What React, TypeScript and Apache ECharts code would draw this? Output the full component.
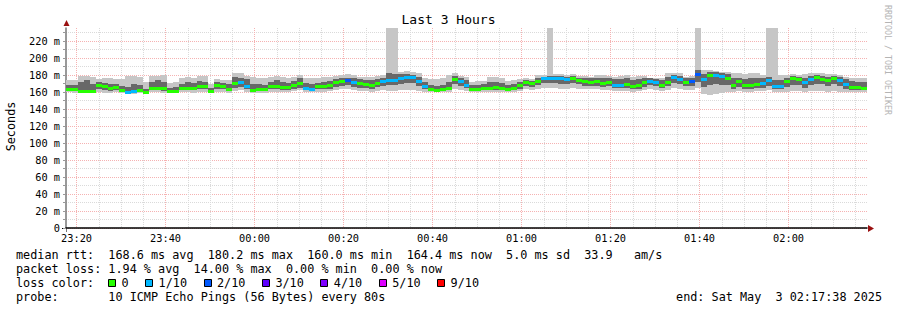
import React, { useEffect, useRef } from "react";
import * as echarts from "echarts";

// time axis in minutes of day (continuing past midnight): 23:17:38 .. 02:17:38
const START_MIN = 23 * 60 + 17 + 38 / 60;
const STEP_MIN = 80 / 60;
const END_MIN = START_MIN + 180;
const Y_MAX = 235.3;

// median rtt per 80 s step (ms)
const median = [
  163, 163, 161, 161, 161, 168, 166, 164, 165, 162,
  160, 161, 162, 160, 164, 164, 164, 161, 161, 164,
  164, 164, 166, 166, 161, 168, 167, 163, 170, 171,
  166, 162, 163, 163, 166, 166, 165, 165, 168, 170,
  164, 163, 166, 166, 168, 171, 172, 173, 171, 170,
  169, 168, 170, 172, 173, 173, 176, 177, 177, 172,
  166, 163, 162, 163, 164, 175, 172, 168, 163, 163,
  164, 164, 165, 164, 163, 164, 168, 171, 170, 172,
  176, 176, 176, 176, 175, 176, 174, 172, 171, 172,
  170, 171, 168, 168, 169, 166, 168, 171, 172, 171,
  168, 171, 177, 175, 171, 172, 180.2, 175, 179, 179.5,
  178, 176, 168, 172, 168, 168, 169, 170, 173, 166,
  166, 172, 176, 175, 171, 175, 177, 175, 173, 176,
  173, 169, 165, 165, 164.4,
];

// lost pings out of 10 per step
const loss = [
  0, 0, 0, 0, 0, 0, 0, 0, 0, 0,
  1, 1, 0, 0, 0, 0, 0, 0, 0, 0,
  0, 0, 0, 0, 0, 0, 0, 0, 0, 1,
  1, 0, 0, 0, 0, 0, 0, 0, 0, 0,
  1, 1, 0, 0, 0, 0, 0, 2, 1, 0,
  0, 0, 0, 1, 1, 1, 1, 1, 1, 1,
  1, 0, 0, 0, 0, 0, 1, 1, 0, 0,
  0, 0, 0, 0, 0, 0, 0, 0, 0, 0,
  1, 1, 1, 1, 1, 0, 0, 0, 0, 0,
  0, 0, 1, 1, 0, 0, 0, 0, 1, 1,
  0, 0, 1, 1, 0, 2, 2, 1, 0, 1,
  1, 0, 0, 0, 0, 0, 0, 1, 1, 1,
  1, 0, 0, 0, 1, 1, 0, 0, 0, 0,
  1, 1, 0, 0, 0,
];

// smoke: lowest ping, lower inner ping, upper inner ping, highest ping (ms)
const pingMin = [
  160, 159, 159, 159, 159, 160, 159, 159, 160, 159,
  158, 158, 159, 159, 160, 160, 159, 159, 159, 160,
  160, 159, 160, 160, 159, 160, 160, 159, 161, 162,
  160, 159, 159, 159, 160, 160, 160, 160, 161, 162,
  160, 160, 160, 160, 161, 162, 163, 163, 162, 161,
  161, 160, 161, 162, 161, 161, 162, 162, 162, 161,
  160, 160, 160, 160, 160, 163, 162, 161, 160, 160,
  160, 160, 160, 160, 160, 160, 161, 163, 162, 163,
  165, 165, 165, 164, 164, 165, 164, 163, 163, 163,
  162, 162, 161, 161, 161, 160, 161, 162, 163, 162,
  161, 162, 165, 164, 162, 162, 165, 158, 157, 158,
  159, 160, 160, 161, 160, 160, 161, 161, 162, 160,
  160, 160, 161, 161, 160, 161, 161, 161, 160, 161,
  160, 160, 160, 160, 160,
];
const pingLow = [
  161, 161, 160, 160, 160, 163, 162, 161, 162, 160,
  159, 159, 160, 160, 162, 162, 161, 160, 160, 162,
  162, 162, 163, 163, 160, 164, 163, 161, 165, 166,
  163, 160, 161, 161, 163, 163, 162, 162, 164, 165,
  162, 161, 163, 163, 164, 166, 167, 168, 166, 165,
  165, 164, 166, 167, 168, 168, 170, 171, 171, 167,
  163, 161, 161, 161, 162, 169, 167, 165, 161, 161,
  162, 162, 162, 162, 161, 162, 164, 167, 166, 168,
  171, 171, 171, 170, 170, 171, 169, 167, 167, 167,
  166, 167, 165, 165, 165, 163, 164, 166, 168, 167,
  165, 167, 171, 169, 167, 167, 172, 166, 168, 169,
  168, 168, 164, 166, 164, 164, 165, 165, 167, 163,
  163, 166, 168, 168, 165, 168, 170, 169, 167, 169,
  167, 164, 162, 162, 162,
];
const pingHigh = [
  168, 168, 172, 174, 170, 172, 171, 170, 169, 167,
  166, 170, 168, 164, 172, 174, 172, 165, 166, 170,
  172, 171, 173, 172, 165, 172, 171, 170, 178, 177,
  175, 170, 170, 168, 172, 174, 172, 171, 173, 176,
  171, 170, 171, 172, 173, 175, 176, 177, 176, 175,
  174, 174, 175, 177, 182, 181, 181, 181, 180, 178,
  172, 168, 167, 168, 172, 179, 177, 174, 168, 168,
  169, 172, 172, 171, 168, 169, 172, 174, 173, 177,
  178, 179, 179, 179, 178, 179, 177, 177, 176, 177,
  176, 176, 175, 175, 176, 174, 175, 176, 176, 175,
  174, 178, 180, 179, 176, 177, 186, 181, 183, 183,
  182, 181, 176, 177, 175, 176, 176, 177, 178, 174,
  174, 177, 179, 178, 177, 179, 180, 179, 178, 179,
  178, 175, 173, 172, 172,
];
const pingMax = [
  174, 174, 179, 179, 178, 175, 176, 176, 175, 175,
  179, 179, 178, 172, 179, 179, 180, 171, 172, 176,
  178, 177, 179, 179, 169, 175, 174, 174, 182, 182,
  179, 178, 177, 176, 178, 179, 178, 176, 178, 180,
  177, 176, 177, 178, 178, 179, 180, 181, 180, 178,
  178, 178, 179, 180, 260, 260, 184, 185, 183, 182,
  176, 175, 175, 176, 180, 182, 179, 178, 172, 173,
  173, 178, 178, 177, 173, 174, 175, 176, 175, 180,
  180, 260, 181, 181, 180, 181, 179, 179, 178, 180,
  180, 179, 178, 179, 180, 178, 179, 179, 177, 177,
  177, 182, 182, 182, 178, 179, 260, 186, 186, 185,
  184, 184, 182, 182, 181, 182, 182, 180, 260, 260,
  180, 180, 181, 180, 181, 182, 182, 182, 181, 181,
  180, 178, 177, 177, 176,
];

const lossCounts = [0, 1, 2, 3, 4, 5, 9];
const lossLabels = ["0", "1/10", "2/10", "3/10", "4/10", "5/10", "9/10"];
const lossColors = ["#26ff00", "#00b8ff", "#0059ff", "#5e00ff", "#7e00ff", "#dd00ff", "#ff0000"];

const titleText = "Last 3 Hours";
const yAxisTitle = "Seconds";
const watermarkText = "RRDTOOL / TOBI OETIKER";
const rttLine = "median rtt:  168.6 ms avg  180.2 ms max  160.0 ms min  164.4 ms now  5.0 ms sd  33.9   am/s";
const lossLine = "packet loss: 1.94 % avg  14.00 % max  0.00 % min  0.00 % now";
const lossColorLabel = "loss color:";
const probeLine = "probe:       10 ICMP Echo Pings (56 Bytes) every 80s";
const endLine = "end: Sat May  3 02:17:38 2025";

const MONO = '"DejaVu Sans Mono", "Liberation Mono", monospace';
const LEGEND_FONT = 11.8;
const CHAR_W = 7.1;

function fmtTime(v: number) {
  const m = ((Math.round(v) % 1440) + 1440) % 1440;
  const hh = String(Math.floor(m / 60)).padStart(2, "0");
  const mm = String(m % 60).padStart(2, "0");
  return `${hh}:${mm}`;
}

export default function App() {
  const ref = useRef<HTMLDivElement>(null);

  useEffect(() => {
    const chart = echarts.init(ref.current!, null, { renderer: "svg" });

    const data = median.map((m, i) => [
      START_MIN + i * STEP_MIN,
      pingMin[i],
      pingLow[i],
      pingHigh[i],
      pingMax[i],
      m,
      loss[i],
    ]);

    const colorFor = (n: number) => {
      const k = lossCounts.indexOf(n);
      return k >= 0 ? lossColors[k] : lossColors[lossColors.length - 1];
    };

    const renderItem = (params: any, api: any) => {
      const t = api.value(0);
      const cs = params.coordSys;
      const top = cs.y;
      const bottom = cs.y + cs.height;
      const xl = Math.round(api.coord([t, 0])[0]);
      const xr = Math.round(api.coord([t + STEP_MIN, 0])[0]);
      const Y = (v: number) => Math.max(top, Math.min(bottom, Math.round(api.coord([t, v])[1])));
      const band = (a: number, b: number, fill: string) => {
        const y1 = Y(b);
        const y2 = Y(a);
        return { type: "rect", shape: { x: xl, y: y1, width: xr - xl, height: Math.max(1, y2 - y1) }, style: { fill } };
      };
      const ym = api.coord([t, api.value(5)])[1];
      return {
        type: "group",
        children: [
          band(api.value(1), api.value(4), "#c6c6c6"),
          band(api.value(2), api.value(3), "#686868"),
          {
            type: "rect",
            shape: { x: xl, y: Math.round(ym - 1.5), width: xr - xl, height: 3 },
            style: { fill: colorFor(api.value(6)) },
          },
        ],
      };
    };

    const legendCenters = [254.5, 268.5, 282.5, 296.5];
    const textStyle = (text: string, size = LEGEND_FONT, fill = "#000", align = "left") => ({
      text,
      font: `${size}px ${MONO}`,
      fill,
      align,
      verticalAlign: "middle",
    });

    const graphics: any[] = [
      { type: "text", x: 448.5, y: 19.5, style: textStyle(titleText, 13, "#000", "center") },
      { type: "text", x: 11, y: 126.5, rotation: Math.PI / 2, style: textStyle(yAxisTitle, LEGEND_FONT, "#000", "center") },
      { type: "text", x: 887.5, y: 60, rotation: -Math.PI / 2, style: textStyle(watermarkText, 8.3, "#b4b4b4", "center") },
      { type: "text", x: 16, y: legendCenters[0], style: textStyle(rttLine) },
      { type: "text", x: 16, y: legendCenters[1], style: textStyle(lossLine) },
      { type: "text", x: 16, y: legendCenters[2], style: textStyle(lossColorLabel) },
      { type: "text", x: 16, y: legendCenters[3], style: textStyle(probeLine) },
      { type: "text", x: 882, y: legendCenters[3], style: textStyle(endLine, LEGEND_FONT, "#000", "right") },
      // axis extensions and arrows
      { type: "line", shape: { x1: 62, y1: 228.5, x2: 67, y2: 228.5 }, style: { stroke: "#000", lineWidth: 1 } },
      { type: "line", shape: { x1: 66.5, y1: 228, x2: 66.5, y2: 232 }, style: { stroke: "#777", lineWidth: 1 } },
      { type: "polygon", shape: { points: [[868, 225], [874, 228.5], [868, 232]] }, style: { fill: "#9a1010" } },
      { type: "polygon", shape: { points: [[63.5, 26], [66.5, 20], [69.5, 26]] }, style: { fill: "#9a1010" } },
    ];

    let bx = 108;
    lossLabels.forEach((lab, k) => {
      graphics.push({
        type: "rect",
        shape: { x: Math.round(bx) + 0.5, y: 279.5, width: 7, height: 7 },
        style: { fill: lossColors[k], stroke: "#000", lineWidth: 1 },
      });
      graphics.push({ type: "text", x: bx + 13.5, y: legendCenters[2], style: textStyle(lab) });
      bx += 30 + lab.length * CHAR_W;
    });

    chart.setOption({
      animation: false,
      backgroundColor: "#ffffff",
      grid: { left: 66, top: 28, width: 801, height: 200, containLabel: false },
      xAxis: {
        type: "value",
        min: START_MIN,
        max: END_MIN,
        splitNumber: 9,
        minInterval: 20,
        maxInterval: 20,
        axisLine: { show: true, onZero: false, lineStyle: { color: "#000", width: 1.5 } },
        axisTick: { show: false },
        axisLabel: {
          showMinLabel: false,
          showMaxLabel: false,
          margin: 5,
          color: "#000",
          fontFamily: MONO,
          fontSize: 10.3,
          formatter: (v: number) => (Math.abs(v / 20 - Math.round(v / 20)) < 1e-6 ? fmtTime(v) : ""),
        },
        splitLine: {
          show: true,
          showMinLine: false,
          showMaxLine: false,
          lineStyle: { color: "#f5b2b2", width: 1, type: [1, 1] },
        },
        minorTick: { show: false, splitNumber: 4 },
        minorSplitLine: { show: true, lineStyle: { color: "#dadada", width: 1, type: [1, 1] } },
      },
      yAxis: {
        type: "value",
        min: 0,
        max: Y_MAX,
        interval: 10,
        axisLine: { show: true, lineStyle: { color: "#777", width: 1.5 } },
        axisTick: { show: true, length: 3, lineStyle: { color: "#999" } },
        axisLabel: {
          showMaxLabel: false,
          margin: 6,
          color: "#000",
          fontFamily: MONO,
          fontSize: 10.3,
          formatter: (v: number) => (Math.round(v) % 20 === 0 && Math.abs(v - Math.round(v)) < 1e-6 ? (v === 0 ? "0" : `${Math.round(v)} m`) : ""),
        },
        splitLine: {
          show: true,
          showMaxLine: false,
          lineStyle: { color: ["#f5b2b2", "#dadada"], width: 1, type: [1, 1] },
        },
      },
      series: [
        {
          type: "custom",
          renderItem,
          clip: true,
          data,
          encode: { x: 0, y: [1, 2, 3, 4, 5] },
          silent: true,
        },
      ],
      graphic: graphics,
    });

    return () => chart.dispose();
  }, []);

  return (
    <div
      ref={ref}
      style={{ position: "fixed", left: 0, top: 0, width: 897, height: 310, background: "#fff" }}
    />
  );
}
